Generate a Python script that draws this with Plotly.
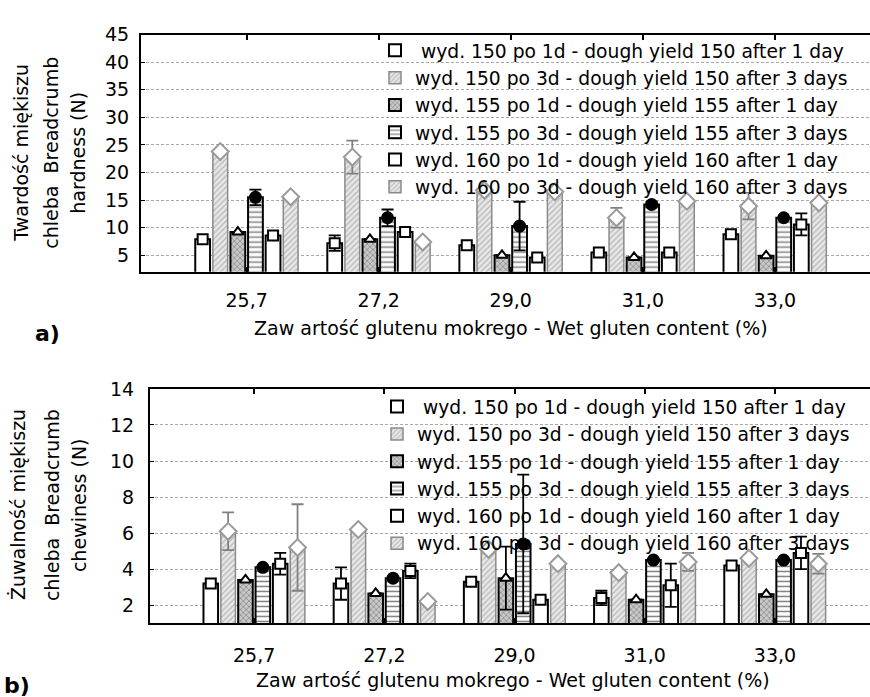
import plotly.graph_objects as go

# ---------------- data ----------------
gluten_labels = ["25,7", "27,2", "29,0", "31,0", "33,0"]

series_names = [
    " wyd. 150 po 1d - dough yield 150 after 1 day",
    "wyd. 150 po 3d - dough yield 150 after 3 days",
    "wyd. 155 po 1d - dough yield 155 after 1 day",
    "wyd. 155 po 3d - dough yield 155 after 3 days",
    "wyd. 160 po 1d - dough yield 160 after 1 day",
    "wyd. 160 po 3d - dough yield 160 after 3 days",
]

# a) hardness (N)
hard_150_1d = [7.9, 7.2, 6.8, 5.5, 8.8]
hard_150_3d = [23.8, 22.8, 16.8, 11.8, 13.9]
hard_155_1d = [9.2, 7.9, 5.0, 4.6, 4.9]
hard_155_3d = [15.5, 11.8, 10.3, 14.2, 11.8]
hard_160_1d = [8.6, 9.2, 4.6, 5.5, 10.6]
hard_160_3d = [15.6, 7.4, 16.5, 14.8, 14.5]

hard_err_150_1d = [None, 1.4, None, None, None]
hard_err_150_3d = [None, 3.0, None, 1.8, 2.4]
hard_err_155_1d = [None, None, None, None, None]
hard_err_155_3d = [1.4, 1.5, 4.4, 0.5, None]
hard_err_160_1d = [None, None, None, None, 2.0]
hard_err_160_3d = [None, None, None, None, None]

# b) chewiness (N)
chew_150_1d = [3.2, 3.2, 3.3, 2.4, 4.2]
chew_150_3d = [6.1, 6.2, 5.1, 3.8, 4.6]
chew_155_1d = [3.4, 2.65, 3.5, 2.3, 2.6]
chew_155_3d = [4.1, 3.5, 5.4, 4.5, 4.5]
chew_160_1d = [4.3, 3.9, 2.3, 3.1, 4.9]
chew_160_3d = [5.2, 2.2, 4.3, 4.4, 4.3]

chew_err_150_1d = [None, 0.9, None, 0.4, None]
chew_err_150_3d = [1.05, None, None, None, None]
chew_err_155_1d = [None, None, 1.75, None, None]
chew_err_155_3d = [None, None, 3.85, None, None]
chew_err_160_1d = [0.6, 0.4, None, 1.2, 0.9]
chew_err_160_3d = [2.4, None, None, 0.5, 0.55]

hard_ticks = [5, 10, 15, 20, 25, 30, 35, 40, 45]
chew_ticks = [2, 4, 6, 8, 10, 12, 14]

hard_vals = [hard_150_1d, hard_150_3d, hard_155_1d, hard_155_3d, hard_160_1d, hard_160_3d]
hard_errs = [hard_err_150_1d, hard_err_150_3d, hard_err_155_1d, hard_err_155_3d, hard_err_160_1d, hard_err_160_3d]
chew_vals = [chew_150_1d, chew_150_3d, chew_155_1d, chew_155_3d, chew_160_1d, chew_160_3d]
chew_errs = [chew_err_150_1d, chew_err_150_3d, chew_err_155_1d, chew_err_155_3d, chew_err_160_1d, chew_err_160_3d]

# ---------------- styles ----------------
FONT = "DejaVu Sans"
W, H = 870, 697

styles = [
    dict(fill="white", pattern=None, line="black", lw=2, sym="square", msize=10, mfill="white", mline="black", ecol="black"),
    dict(fill="#e6e6e6", pattern=dict(shape="/", fgcolor="#8c8c8c", bgcolor="#e8e8e8", size=4, solidity=0.35),
         line="#8a8a8a", lw=1.5, sym="diamond", msize=13, mfill="white", mline="#9a9a9a", ecol="#808080"),
    dict(fill="#b0b0b0", pattern=dict(shape="x", fgcolor="#4a4a4a", bgcolor="#c8c8c8", size=4, solidity=0.35),
         line="black", lw=2, sym="triangle-up", msize=10, mfill="white", mline="black", ecol="black"),
    dict(fill="white", pattern=dict(shape="-", fgcolor="black", bgcolor="white", size=5, solidity=0.3),
         line="black", lw=2, sym="circle", msize=11, mfill="black", mline="black", ecol="black"),
    dict(fill="white", pattern=None, line="black", lw=2, sym="square", msize=10, mfill="white", mline="black", ecol="black"),
    dict(fill="#e6e6e6", pattern=dict(shape="/", fgcolor="#8c8c8c", bgcolor="#e8e8e8", size=4, solidity=0.35),
         line="#8a8a8a", lw=1.5, sym="diamond", msize=13, mfill="white", mline="#9a9a9a", ecol="#808080"),
]

PITCH = 0.1333
BAR_W = 0.112

fig = go.Figure()


def add_panel(vals, errs, xa, ya, legend_name, tag):
    for j, (v, e) in enumerate(zip(vals, errs)):
        st = styles[j]
        xs = [i + (j - 2.5) * PITCH for i in range(len(gluten_labels))]
        marker = dict(color=st["fill"], line=dict(color=st["line"], width=st["lw"]))
        if st["pattern"] is not None:
            marker["pattern"] = st["pattern"]
        fig.add_trace(go.Bar(
            x=xs, y=v, width=BAR_W, name=series_names[j], marker=marker,
            xaxis=xa, yaxis=ya, legend=legend_name, legendgroup=f"{tag}{j}",
            showlegend=True,
        ))
        fig.add_trace(go.Scatter(
            x=xs, y=v, mode="markers", xaxis=xa, yaxis=ya,
            marker=dict(symbol=st["sym"], size=st["msize"], color=st["mfill"],
                        line=dict(color=st["mline"], width=2)),
            error_y=dict(type="data", array=[ee if ee is not None else float("nan") for ee in e],
                         visible=True, color=st["ecol"], thickness=1.8, width=6),
            legendgroup=f"{tag}{j}", showlegend=False, hoverinfo="skip",
        ))


add_panel(hard_vals, hard_errs, "x", "y", "legend", "a")
add_panel(chew_vals, chew_errs, "x2", "y2", "legend2", "b")

axis_font = dict(family=FONT, size=19, color="black")

xcommon = dict(
    tickmode="array", tickvals=list(range(len(gluten_labels))), ticktext=gluten_labels,
    showgrid=False, zeroline=False, showline=True, linecolor="black", linewidth=2,
    mirror="ticks", ticks="inside", ticklen=5, tickwidth=2, tickcolor="black",
    tickfont=axis_font, fixedrange=True,
)
ycommon = dict(
    showgrid=True, gridcolor="#a8a8a8", gridwidth=1, griddash="3px,2px",
    zeroline=False, showline=True, linecolor="black", linewidth=2, mirror=False,
    ticks="inside", ticklen=4, tickwidth=1, tickcolor="black", tickfont=axis_font,
    fixedrange=True,
)

legend_common = dict(
    xanchor="left", yanchor="top", bgcolor="rgba(0,0,0,0)", borderwidth=0,
    tracegroupgap=0, font=dict(family=FONT, size=18.7, color="black"), itemwidth=30,
    itemclick=False, itemdoubleclick=False,
)

fig.update_layout(
    width=W, height=H,
    margin=dict(l=0, r=0, t=0, b=0),
    paper_bgcolor="white", plot_bgcolor="white",
    barmode="overlay",
    font=dict(family=FONT, size=19, color="black"),
    xaxis=dict(domain=[141 / W, 1.0], range=[-0.8, 4.72], anchor="y",
               ticklabelstandoff=10, **xcommon),
    yaxis=dict(domain=[1 - 265 / H, 1 - 24 / H], range=[2, 45], anchor="x",
               tickvals=hard_ticks, ticklabelstandoff=6, **ycommon),
    xaxis2=dict(domain=[150 / W, 1.0], range=[-0.8, 4.73], anchor="y2",
                ticklabelstandoff=14, **xcommon),
    yaxis2=dict(domain=[1 - 622 / H, 1 - 384 / H], range=[1, 14], anchor="x2",
                tickvals=chew_ticks, ticklabelstandoff=10, **ycommon),
    legend=dict(x=375 / W, y=1 - 21 / H, **legend_common),
    legend2=dict(x=377 / W, y=1 - 383 / H, **legend_common),
    showlegend=True,
)


# axis titles and panel labels
def ann(text, px, py, angle=0, size=19, bold=False):
    fig.add_annotation(
        text=f"<b>{text}</b>" if bold else text,
        x=px / W, y=1 - py / H, xref="paper", yref="paper",
        showarrow=False, textangle=angle, xanchor="center", yanchor="middle",
        font=dict(family=FONT, size=size, color="black"),
    )


ann("Twardość miękiszu", 21, 144, -90)
ann("chleba  Breadcrumb", 51, 144, -90)
ann("hardness (N)", 78, 144, -90)
ann("Zaw artość glutenu mokrego - Wet gluten content (%)", 511, 322)
ann("a)", 47, 328, size=22, bold=True)

ann("Żuwalność miękiszu", 18, 502, -90)
ann("chleba  Breadcrumb", 52, 502, -90)
ann("chewiness (N)", 79, 502, -90)
ann("Zaw artość glutenu mokrego - Wet gluten content (%)", 513, 680)
ann("b)", 17, 685, size=22, bold=True)

fig.write_html(
    "out.html",
    config={"displayModeBar": False},
    post_script="document.body.style.margin='0px';document.body.style.overflow='hidden';",
)
